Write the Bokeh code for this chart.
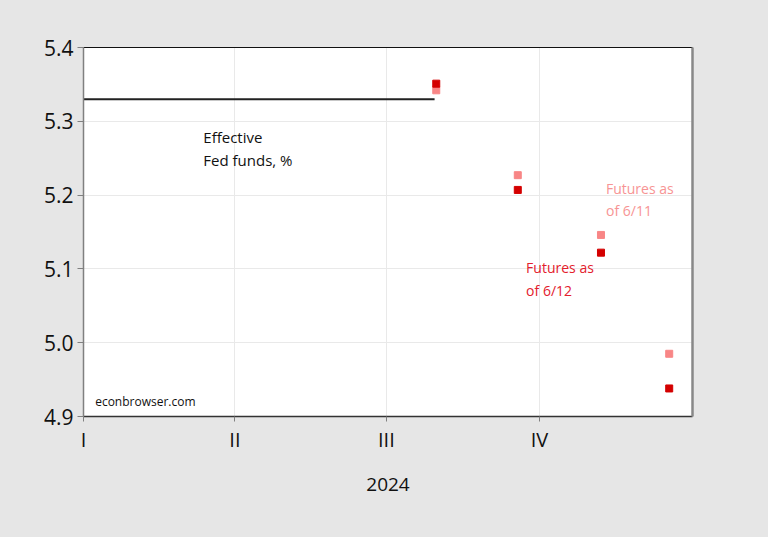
from datetime import datetime
from bokeh.plotting import figure
from bokeh.models import (Range1d, FixedTicker, LinearAxis, Label, ColumnDataSource,
                          PrintfTickFormatter)
from bokeh.embed import file_html
from bokeh.resources import INLINE

# ---- data ----
effr_dates = [datetime(2024, 1, 1), datetime(2024, 2, 1), datetime(2024, 3, 1),
              datetime(2024, 4, 1), datetime(2024, 5, 1), datetime(2024, 6, 1),
              datetime(2024, 7, 1), datetime(2024, 7, 30)]
effr_values = [5.33, 5.33, 5.33, 5.33, 5.33, 5.33, 5.33, 5.33]

fomc_dates = [datetime(2024, 7, 31), datetime(2024, 9, 18),
              datetime(2024, 11, 7), datetime(2024, 12, 18)]
futures_0611 = [5.342, 5.227, 5.146, 4.985]
futures_0612 = [5.351, 5.207, 5.122, 4.938]

quarter_starts = [datetime(2024, 1, 1), datetime(2024, 4, 1),
                  datetime(2024, 7, 1), datetime(2024, 10, 1)]
quarter_labels = ["I", "II", "III", "IV"]
y_ticks = [4.9, 5.0, 5.1, 5.2, 5.3, 5.4]
year_label = "2024"

FONT = "Open Sans"
BG = "#e6e6e6"

def ms(d):
    return d.timestamp() * 1000.0

p = figure(width=760, height=529, output_backend="svg", toolbar_location=None,
           x_axis_type="datetime",
           x_range=Range1d(ms(datetime(2024, 1, 1)), ms(datetime(2025, 1, 1))),
           y_range=Range1d(4.9, 5.4),
           background_fill_color="white", border_fill_color=BG,
           min_border_left=83, min_border_right=68, min_border_top=47,
           min_border_bottom=113)
p.outline_line_color = None

# grids
p.xgrid.ticker = FixedTicker(ticks=[ms(d) for d in quarter_starts])
p.ygrid.ticker = FixedTicker(ticks=y_ticks)
p.xgrid.grid_line_color = "#e9e9e9"
p.ygrid.grid_line_color = "#e9e9e9"

# x axis
xa = p.xaxis[0]
xa.ticker = FixedTicker(ticks=[ms(d) for d in quarter_starts])
xa.major_label_overrides = {ms(d): lab for d, lab in zip(quarter_starts, quarter_labels)}
xa.minor_tick_line_color = None
xa.major_tick_in = 0
xa.major_tick_out = 5
xa.major_tick_line_color = "#808080"
xa.axis_line_color = "#333333"
xa.axis_line_width = 1.5
xa.major_label_text_font = FONT
xa.major_label_text_font_size = "20px"
xa.major_label_text_color = "#111111"
xa.major_label_standoff = 4
xa.axis_label = year_label
xa.axis_label_text_font = FONT
xa.axis_label_text_font_size = "19px"
xa.axis_label_text_font_style = "normal"
xa.axis_label_text_color = "#111111"
xa.axis_label_standoff = 22

# y axis
ya = p.yaxis[0]
ya.ticker = FixedTicker(ticks=y_ticks)
ya.formatter = PrintfTickFormatter(format="%.1f")
ya.minor_tick_line_color = None
ya.major_tick_in = 0
ya.major_tick_out = 6
ya.major_tick_line_color = "#808080"
ya.axis_line_color = "#808080"
ya.axis_line_width = 1.5
ya.major_label_text_font = FONT
ya.major_label_text_font_size = "21px"
ya.major_label_text_color = "#111111"
ya.major_label_standoff = 4

# frame borders: top black, right gray
top = LinearAxis(ticker=FixedTicker(ticks=[]), axis_line_color="#111111",
                 axis_line_width=1.2, major_label_text_font_size="0px",
                 major_tick_line_color=None, minor_tick_line_color=None)
right = LinearAxis(ticker=FixedTicker(ticks=[]), axis_line_color="#888888",
                   axis_line_width=2.5, major_label_text_font_size="0px",
                   major_tick_line_color=None, minor_tick_line_color=None)
p.add_layout(top, "above")
p.add_layout(right, "right")

# series
p.line(x=[ms(d) for d in effr_dates], y=effr_values, line_color="#222222", line_width=2)
src11 = ColumnDataSource(dict(x=[ms(d) for d in fomc_dates], y=futures_0611))
src12 = ColumnDataSource(dict(x=[ms(d) for d in fomc_dates], y=futures_0612))
p.scatter("x", "y", source=src11, marker="square", size=7, fill_color="#f88686",
          line_color="#f88686")
p.scatter("x", "y", source=src12, marker="square", size=7, fill_color="#d40000",
          line_color="#d40000")

def add_label(x, y, text, color, size="14px"):
    p.add_layout(Label(x=ms(x), y=y, text=text, text_color=color, text_font=FONT,
                       text_font_size=size, text_baseline="middle", text_align="left"))

add_label(datetime(2024, 3, 13), 5.279, "Effective", "#111111", "15px")
add_label(datetime(2024, 3, 13), 5.247, "Fed funds, %", "#111111", "15px")
add_label(datetime(2024, 11, 10), 5.209, "Futures as", "#f79494")
add_label(datetime(2024, 11, 10), 5.179, "of 6/11", "#f79494")
add_label(datetime(2024, 9, 23), 5.102, "Futures as", "#e3202c")
add_label(datetime(2024, 9, 23), 5.071, "of 6/12", "#e3202c")
add_label(datetime(2024, 1, 8), 4.921, "econbrowser.com", "#111111", "12px")

html = file_html(p, INLINE)
html = html.replace("</head>", "<style>body{background:%s;}</style></head>" % BG, 1)
open("out.html", "w").write(html)
